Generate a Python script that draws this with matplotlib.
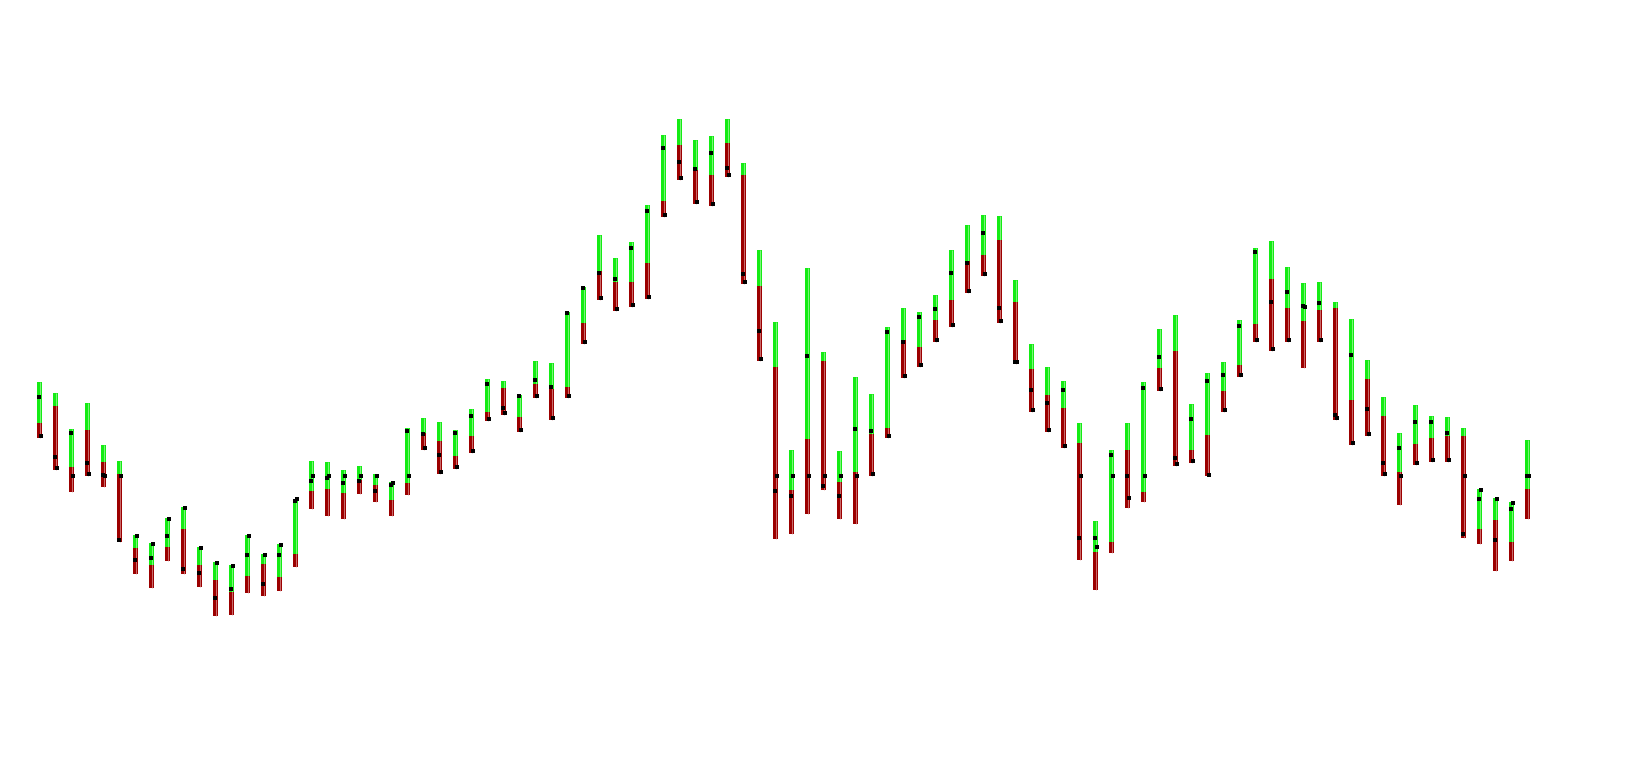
import matplotlib
matplotlib.use("Agg")

import matplotlib.pyplot as plt
import numpy as np

# one entry per bar: top of green part, green/red split, bottom of red part,
# left tick (open) and right tick (close)
top = [386, 375, 339, 365, 323, 307, 233, 225,
       250, 261, 221, 206, 203, 233, 214, 224,
       269, 307, 306, 298, 302, 294, 286, 340,
       350, 346, 338, 359, 389, 387, 373, 407,
       405, 456, 481, 533, 510, 526, 563, 633,
       649, 628, 632, 649, 605, 518, 446, 318,
       500, 416, 317, 391, 374, 441, 460, 456,
       473, 518, 543, 553, 552, 488, 424, 401,
       387, 345, 247, 318, 345, 386, 439, 453,
       364, 395, 406, 448, 520, 527, 501, 485,
       486, 466, 449, 408, 371, 335, 363, 352,
       351, 340, 279, 270, 266, 328]
split = [345, 362, 301, 338, 306, 294, 220, 203,
         221, 239, 203, 188, 176, 192, 204, 191,
         214, 277, 279, 275, 288, 283, 268, 285,
         335, 327, 312, 332, 356, 380, 351, 384,
         379, 381, 445, 497, 486, 486, 505, 567,
         623, 598, 593, 625, 593, 482, 401, 278,
         329, 407, 286, 296, 334, 340, 428, 421,
         448, 468, 507, 513, 528, 466, 399, 373,
         360, 325, 216, 226, 318, 276, 400, 417,
         318, 333, 377, 403, 444, 489, 460, 447,
         458, 460, 368, 389, 352, 296, 324, 330,
         332, 332, 239, 248, 226, 279]
bottom = [330, 298, 276, 292, 281, 226, 194, 180,
          207, 194, 181, 152, 153, 175, 172, 177,
          201, 259, 252, 249, 274, 266, 252, 273,
          318, 294, 299, 315, 347, 353, 336, 370,
          348, 370, 424, 468, 457, 461, 469, 551,
          588, 564, 562, 591, 484, 407, 229, 234,
          254, 278, 249, 244, 292, 330, 390, 401,
          426, 441, 475, 492, 445, 404, 356, 336,
          320, 208, 178, 215, 260, 266, 377, 302,
          305, 292, 356, 391, 426, 417, 426, 400,
          426, 348, 323, 332, 292, 263, 303, 306,
          306, 230, 224, 197, 207, 249]
opens = [371, 311, 335, 305, 293, 228, 208, 210,
         232, 199, 195, 170, 179, 213, 184, 213,
         267, 287, 290, 285, 287, 277, 283, 337,
         334, 313, 335, 352, 384, 360, 372, 388,
         381, 455, 480, 495, 489, 520, 557, 620,
         606, 599, 615, 600, 494, 437, 277, 272,
         412, 282, 272, 339, 337, 436, 426, 451,
         459, 495, 505, 535, 460, 406, 378, 365,
         378, 230, 230, 313, 292, 380, 411, 310,
         349, 387, 393, 442, 516, 466, 476, 462,
         465, 353, 413, 359, 305, 320, 346, 346,
         335, 234, 269, 228, 259, 292]
closes = [332, 300, 292, 294, 292, 292, 232, 224,
          249, 260, 220, 205, 202, 232, 213, 223,
          269, 292, 292, 292, 292, 292, 285, 292,
          320, 296, 301, 317, 349, 355, 338, 372,
          350, 372, 426, 470, 459, 463, 471, 553,
          590, 566, 564, 593, 486, 409, 292, 292,
          292, 292, 292, 292, 294, 332, 392, 403,
          428, 443, 477, 494, 447, 406, 358, 338,
          322, 292, 221, 292, 270, 292, 379, 304,
          307, 293, 358, 393, 428, 419, 428, 461,
          428, 350, 325, 334, 294, 292, 305, 308,
          308, 292, 278, 269, 265, 292]

x = np.arange(len(top))
top = np.array(top)
split = np.array(split)
bottom = np.array(bottom)

fig = plt.figure(figsize=(16.33, 7.68), dpi=100)
ax = fig.add_axes([0, 0, 1, 1])

w = 5 / 16
ax.bar(x, top - split, width=w, bottom=split, color="#14ec14", linewidth=0)
ax.bar(x, split - bottom, width=w, bottom=bottom, color="#9c0000", linewidth=0)
ax.vlines(x, split, top, color="#a8f8a8", linewidth=0.5)
ax.vlines(x, bottom, split, color="#dc9a9a", linewidth=0.5)

d = 1 / 16
ax.scatter(x - d, opens, marker="s", s=5, color="black", linewidths=0, zorder=3)
ax.scatter(x + d, closes, marker="s", s=5, color="black", linewidths=0, zorder=3)

ax.set_xlim(-39.6 / 16, (1633 - 39.6) / 16)
ax.set_ylim(0, 768)
ax.axis("off")

fig.savefig("out.png", dpi=100)
plt.close(fig)
